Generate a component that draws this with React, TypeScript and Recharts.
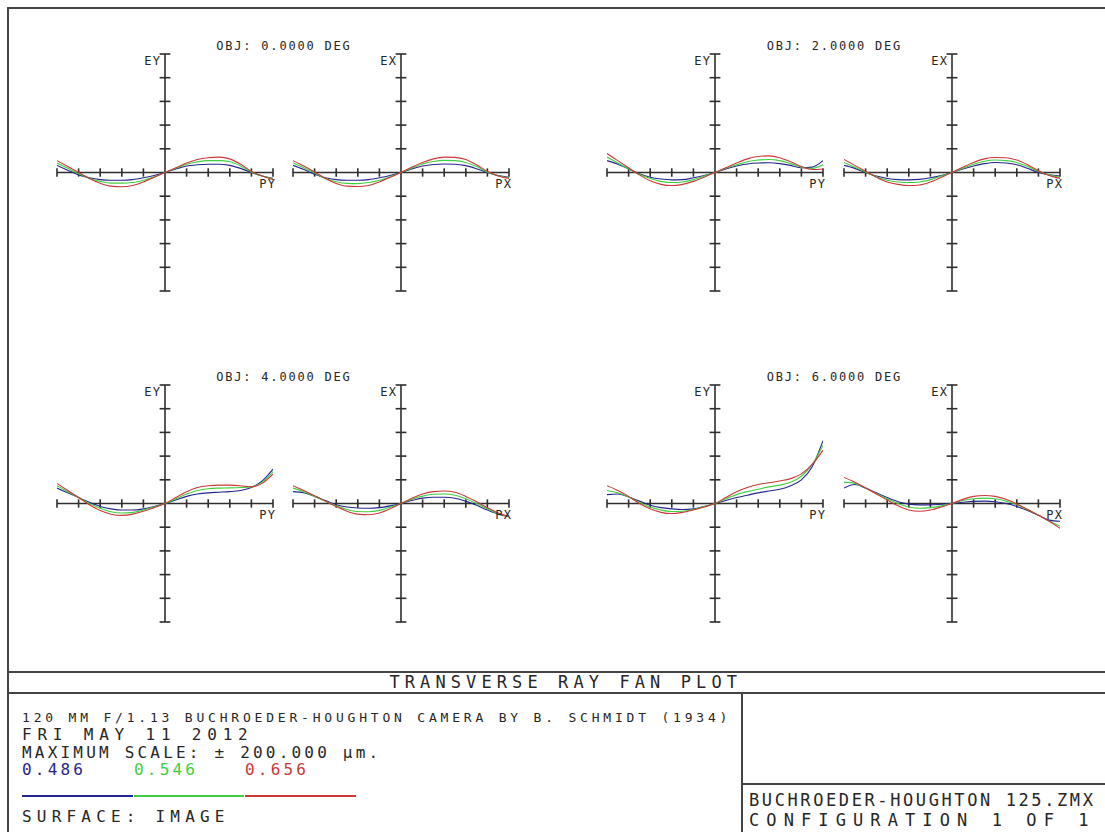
import React from 'react';
import { LineChart, Line, XAxis, YAxis, ReferenceLine } from 'recharts';

// ─── Data ──────────────────────────────────────────────────
// relative pupil coordinate (PY / PX), and ray error as a fraction of max scale
const PUPIL = [-1, -0.9, -0.8, -0.7, -0.6, -0.5, -0.4, -0.3, -0.2, -0.1, 0, 0.1, 0.2, 0.3, 0.4, 0.5, 0.6, 0.7, 0.8, 0.9, 1];
const AXIS_TICKS = [-1, -0.8, -0.6, -0.4, -0.2, 0.2, 0.4, 0.6, 0.8, 1];
const FIELDS = ['OBJ: 0.0000 DEG', 'OBJ: 2.0000 DEG', 'OBJ: 4.0000 DEG', 'OBJ: 6.0000 DEG'];
const WAVELENGTHS = ['0.486', '0.546', '0.656'];

// OBJ 0 deg
const ey0Blue = [0.06, 0.02, -0.02, -0.045, -0.06, -0.065, -0.065, -0.06, -0.045, -0.025, 0, 0.03, 0.055, 0.065, 0.07, 0.07, 0.06, 0.035, 0.0, -0.03, -0.05];
const ey0Green = [0.08, 0.035, -0.01, -0.05, -0.075, -0.09, -0.09, -0.085, -0.065, -0.035, 0, 0.035, 0.07, 0.09, 0.1, 0.1, 0.09, 0.055, 0.005, -0.03, -0.055];
const ey0Red = [0.1, 0.05, 0.0, -0.05, -0.09, -0.115, -0.12, -0.11, -0.08, -0.04, 0, 0.04, 0.08, 0.11, 0.125, 0.13, 0.115, 0.07, 0.01, -0.03, -0.06];
const ex0Blue = [0.06, 0.025, -0.015, -0.045, -0.06, -0.065, -0.065, -0.06, -0.045, -0.025, 0, 0.03, 0.055, 0.068, 0.072, 0.07, 0.058, 0.032, 0.0, -0.025, -0.04];
const ex0Green = [0.08, 0.04, -0.005, -0.05, -0.078, -0.092, -0.094, -0.085, -0.065, -0.035, 0, 0.037, 0.072, 0.093, 0.102, 0.1, 0.085, 0.05, 0.005, -0.028, -0.045];
const ex0Red = [0.1, 0.055, 0.005, -0.05, -0.092, -0.115, -0.118, -0.11, -0.08, -0.04, 0, 0.045, 0.085, 0.115, 0.13, 0.128, 0.11, 0.065, 0.01, -0.03, -0.05];

// OBJ 2 deg
const ey2Blue = [0.1, 0.07, 0.03, -0.01, -0.04, -0.055, -0.062, -0.06, -0.045, -0.025, 0, 0.03, 0.055, 0.072, 0.08, 0.082, 0.075, 0.06, 0.04, 0.045, 0.1];
const ey2Green = [0.13, 0.08, 0.03, -0.015, -0.05, -0.075, -0.085, -0.08, -0.06, -0.03, 0, 0.035, 0.065, 0.09, 0.105, 0.11, 0.1, 0.075, 0.045, 0.035, 0.065];
const ey2Red = [0.16, 0.1, 0.04, -0.02, -0.07, -0.1, -0.11, -0.1, -0.075, -0.04, 0, 0.04, 0.08, 0.115, 0.135, 0.14, 0.125, 0.09, 0.05, 0.025, 0.03];
const ex2Blue = [0.06, 0.035, 0.0, -0.03, -0.05, -0.06, -0.062, -0.058, -0.045, -0.025, 0, 0.03, 0.055, 0.075, 0.085, 0.08, 0.065, 0.035, 0.0, -0.02, -0.03];
const ex2Green = [0.085, 0.045, 0.005, -0.035, -0.065, -0.08, -0.085, -0.08, -0.06, -0.03, 0, 0.035, 0.07, 0.095, 0.105, 0.1, 0.085, 0.05, 0.01, -0.02, -0.04];
const ex2Red = [0.11, 0.06, 0.01, -0.04, -0.08, -0.1, -0.11, -0.105, -0.08, -0.04, 0, 0.045, 0.085, 0.115, 0.127, 0.125, 0.105, 0.065, 0.015, -0.025, -0.05];

// OBJ 4 deg
const ey4Blue = [0.13, 0.09, 0.05, 0.01, -0.025, -0.045, -0.055, -0.055, -0.045, -0.025, 0, 0.03, 0.06, 0.08, 0.09, 0.095, 0.1, 0.11, 0.135, 0.19, 0.29];
const ey4Green = [0.15, 0.1, 0.05, 0.0, -0.04, -0.07, -0.08, -0.075, -0.055, -0.03, 0, 0.04, 0.08, 0.11, 0.125, 0.13, 0.132, 0.135, 0.14, 0.18, 0.27];
const ey4Red = [0.17, 0.11, 0.05, -0.01, -0.06, -0.09, -0.1, -0.09, -0.065, -0.035, 0, 0.05, 0.1, 0.135, 0.15, 0.155, 0.155, 0.15, 0.14, 0.17, 0.25];
const ex4Blue = [0.1, 0.09, 0.06, 0.025, -0.01, -0.03, -0.038, -0.04, -0.035, -0.02, 0, 0.025, 0.045, 0.053, 0.053, 0.045, 0.02, -0.015, -0.055, -0.09, -0.11];
const ex4Green = [0.13, 0.1, 0.06, 0.02, -0.02, -0.05, -0.068, -0.07, -0.058, -0.032, 0, 0.035, 0.062, 0.078, 0.08, 0.07, 0.04, 0.0, -0.045, -0.085, -0.11];
const ex4Red = [0.15, 0.11, 0.065, 0.02, -0.025, -0.065, -0.09, -0.095, -0.08, -0.045, 0, 0.045, 0.08, 0.1, 0.105, 0.095, 0.06, 0.015, -0.035, -0.08, -0.11];

// OBJ 6 deg
const ey6Blue = [0.075, 0.08, 0.055, 0.02, -0.015, -0.035, -0.045, -0.05, -0.045, -0.025, 0, 0.025, 0.05, 0.07, 0.09, 0.105, 0.12, 0.15, 0.2, 0.31, 0.53];
const ey6Green = [0.11, 0.09, 0.055, 0.01, -0.03, -0.055, -0.068, -0.065, -0.05, -0.025, 0, 0.04, 0.075, 0.1, 0.12, 0.14, 0.155, 0.18, 0.23, 0.33, 0.49];
const ey6Red = [0.15, 0.11, 0.06, 0.0, -0.045, -0.075, -0.085, -0.075, -0.055, -0.03, 0, 0.05, 0.1, 0.135, 0.16, 0.175, 0.19, 0.21, 0.25, 0.33, 0.45];
const ex6Blue = [0.13, 0.16, 0.13, 0.09, 0.05, 0.015, -0.005, -0.012, -0.012, -0.006, 0, 0.01, 0.018, 0.02, 0.015, 0.0, -0.025, -0.06, -0.1, -0.14, -0.15];
const ex6Green = [0.18, 0.17, 0.13, 0.085, 0.04, 0.0, -0.03, -0.04, -0.035, -0.02, 0, 0.025, 0.04, 0.045, 0.04, 0.02, -0.01, -0.05, -0.1, -0.15, -0.19];
const ex6Red = [0.22, 0.18, 0.13, 0.08, 0.03, -0.02, -0.055, -0.065, -0.055, -0.03, 0, 0.035, 0.06, 0.068, 0.06, 0.035, -0.005, -0.05, -0.1, -0.15, -0.21];

const toRows = (b: number[], g: number[], r: number[]) =>
  PUPIL.map((p, i) => ({ p, b: b[i], g: g[i], r: r[i] }));

// ─── Style ─────────────────────────────────────────────────
const FONT = '"DejaVu Sans Mono", monospace';
const INK = '#262626';
const AXIS = '#2e2e2e';
const BLUE = '#25258f';
const GREEN = '#3fcf3f';
const RED = '#cc3838';
const HALF_W = 108;
const HALF_H = 118.5;
const M = 10;

function Txt({
  x,
  y,
  size,
  spacing = 0,
  color = INK,
  anchor = 'start',
  children,
}: {
  x: number;
  y: number;
  size: number;
  spacing?: number;
  color?: string;
  anchor?: 'start' | 'middle' | 'end';
  children: React.ReactNode;
}) {
  const shift = anchor === 'end' ? 'translateX(-100%)' : anchor === 'middle' ? 'translateX(-50%)' : undefined;
  const left = anchor === 'end' ? x + spacing : anchor === 'middle' ? x + spacing / 2 : x;
  return (
    <div
      style={{
        position: 'absolute',
        left,
        top: y - 0.48 * size,
        fontSize: size,
        lineHeight: `${size}px`,
        letterSpacing: spacing,
        fontFamily: FONT,
        color,
        whiteSpace: 'pre',
        transform: shift,
      }}
    >
      {children}
    </div>
  );
}

function Rule({ x, y, w, h, color = '#444' }: { x: number; y: number; w: number; h: number; color?: string }) {
  return <div style={{ position: 'absolute', left: x, top: y, width: w, height: h, background: color }} />;
}

// ─── One ray fan ───────────────────────────────────────────
function FanPlot({
  cx,
  cy,
  rows,
  vLabel,
  hLabel,
}: {
  cx: number;
  cy: number;
  rows: { p: number; b: number; g: number; r: number }[];
  vLabel: string;
  hLabel: string;
}) {
  return (
    <>
      <div style={{ position: 'absolute', left: cx - HALF_W - M, top: cy - HALF_H - M }}>
        <LineChart
          width={HALF_W * 2 + M * 2}
          height={HALF_H * 2 + M * 2}
          data={rows}
          margin={{ top: M, right: M, bottom: M, left: M }}
        >
          <XAxis type="number" dataKey="p" domain={[-1, 1]} allowDataOverflow hide />
          <YAxis type="number" domain={[-1, 1]} allowDataOverflow hide />
          <ReferenceLine x={0} stroke={AXIS} strokeWidth={1.6} />
          <ReferenceLine y={0} stroke={AXIS} strokeWidth={1.6} />
          {AXIS_TICKS.map((t) => (
            <ReferenceLine
              key={`v${t}`}
              segment={[{ x: -0.05, y: t }, { x: 0.05, y: t }]}
              stroke={AXIS}
              strokeWidth={1.6}
            />
          ))}
          {AXIS_TICKS.map((t) => (
            <ReferenceLine
              key={`h${t}`}
              segment={[{ x: t, y: -0.035 }, { x: t, y: 0.035 }]}
              stroke={AXIS}
              strokeWidth={1.6}
            />
          ))}
          <Line dataKey="b" type="monotone" stroke={BLUE} strokeWidth={1.1} dot={false} isAnimationActive={false} />
          <Line dataKey="g" type="monotone" stroke={GREEN} strokeWidth={1.1} dot={false} isAnimationActive={false} />
          <Line dataKey="r" type="monotone" stroke={RED} strokeWidth={1.1} dot={false} isAnimationActive={false} />
        </LineChart>
      </div>
      <Txt x={cx - 5} y={cy - HALF_H + 6.5} size={12} spacing={1.2} anchor="end">
        {vLabel}
      </Txt>
      <Txt x={cx + HALF_W + 2} y={cy + 11} size={12} spacing={1.2} anchor="end">
        {hLabel}
      </Txt>
    </>
  );
}

export default function App() {
  const top = 172.5;
  const bottom = 503.5;
  return (
    <div
      style={{
        position: 'absolute',
        left: 0,
        top: 0,
        width: 1105,
        height: 832,
        overflow: 'hidden',
        background: '#fff',
      }}
    >
      {/* frame */}
      <Rule x={7} y={7} w={1098} h={2} />
      <Rule x={7} y={7} w={2} h={825} />

      {/* field titles */}
      <Txt x={283} y={46} size={12} spacing={1.8} anchor="middle">{FIELDS[0]}</Txt>
      <Txt x={833.5} y={46} size={12} spacing={1.8} anchor="middle">{FIELDS[1]}</Txt>
      <Txt x={283} y={377} size={12} spacing={1.8} anchor="middle">{FIELDS[2]}</Txt>
      <Txt x={833.5} y={377} size={12} spacing={1.8} anchor="middle">{FIELDS[3]}</Txt>

      <FanPlot cx={165} cy={top} rows={toRows(ey0Blue, ey0Green, ey0Red)} vLabel="EY" hLabel="PY" />
      <FanPlot cx={401} cy={top} rows={toRows(ex0Blue, ex0Green, ex0Red)} vLabel="EX" hLabel="PX" />
      <FanPlot cx={715} cy={top} rows={toRows(ey2Blue, ey2Green, ey2Red)} vLabel="EY" hLabel="PY" />
      <FanPlot cx={952} cy={top} rows={toRows(ex2Blue, ex2Green, ex2Red)} vLabel="EX" hLabel="PX" />
      <FanPlot cx={165} cy={bottom} rows={toRows(ey4Blue, ey4Green, ey4Red)} vLabel="EY" hLabel="PY" />
      <FanPlot cx={401} cy={bottom} rows={toRows(ex4Blue, ex4Green, ex4Red)} vLabel="EX" hLabel="PX" />
      <FanPlot cx={715} cy={bottom} rows={toRows(ey6Blue, ey6Green, ey6Red)} vLabel="EY" hLabel="PY" />
      <FanPlot cx={952} cy={bottom} rows={toRows(ex6Blue, ex6Green, ex6Red)} vLabel="EX" hLabel="PX" />

      {/* title block */}
      <Rule x={7} y={671} w={1098} h={1.5} />
      <Rule x={7} y={692} w={1098} h={1.5} />
      <Rule x={741} y={692} w={1.5} h={140} />
      <Rule x={741} y={783} w={364} h={1.5} />

      <Txt x={737} y={682} size={17} spacing={5.1} anchor="end">TRANSVERSE RAY FAN PLOT</Txt>
      <Txt x={22} y={717} size={13} spacing={3.8}>120 MM F/1.13 BUCHROEDER-HOUGHTON CAMERA BY B. SCHMIDT (1934)</Txt>
      <Txt x={22} y={735} size={16} spacing={5.8}>FRI MAY 11 2012</Txt>
      <Txt x={22} y={752.5} size={16} spacing={3.2}>MAXIMUM SCALE: ± 200.000 µm.</Txt>
      <Txt x={22} y={770} size={16} spacing={3.2} color={BLUE}>{WAVELENGTHS[0]}</Txt>
      <Txt x={134} y={770} size={16} spacing={3.2} color={GREEN}>{WAVELENGTHS[1]}</Txt>
      <Txt x={245} y={770} size={16} spacing={3.2} color={RED}>{WAVELENGTHS[2]}</Txt>
      <Rule x={22} y={795} w={111} h={1.5} color={BLUE} />
      <Rule x={134} y={795} w={110} h={1.5} color={GREEN} />
      <Rule x={245} y={795} w={111} h={1.5} color={RED} />
      <Txt x={22} y={817} size={16} spacing={5.2}>SURFACE: IMAGE</Txt>

      <Txt x={749} y={800} size={17} spacing={2.6}>BUCHROEDER-HOUGHTON 125.ZMX</Txt>
      <Txt x={749} y={820} size={17} spacing={7.1}>CONFIGURATION 1 OF 1</Txt>
    </div>
  );
}
